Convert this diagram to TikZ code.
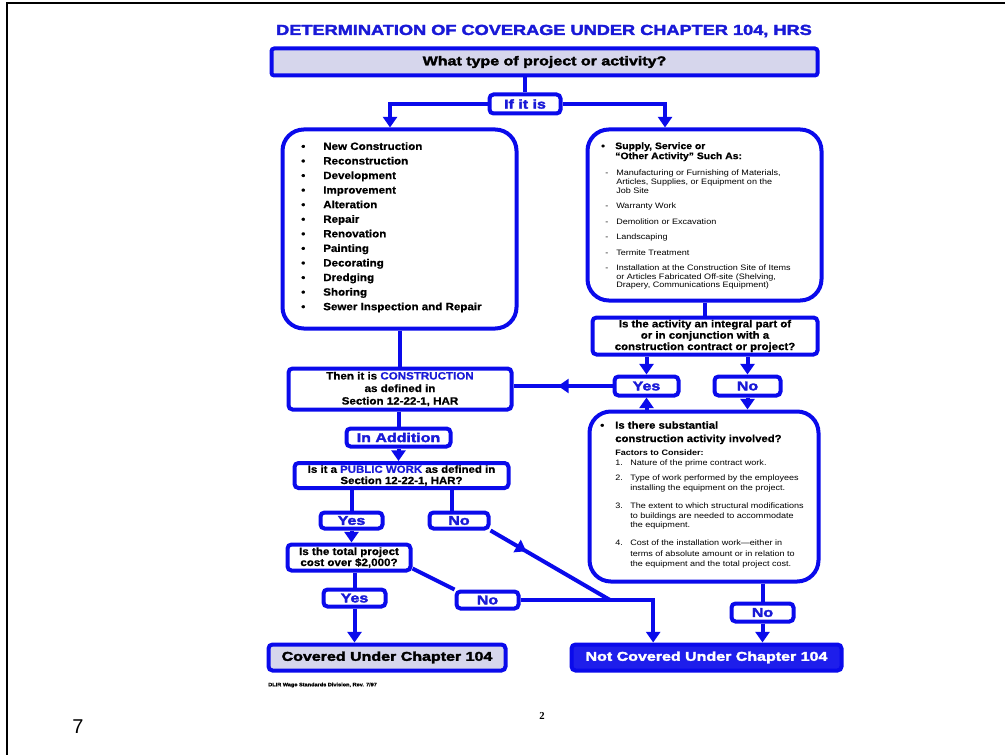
\documentclass[tikz,border=0pt]{standalone}
\usepackage{fontspec}
\setmainfont{Liberation Sans}
\newfontfamily\heavyfam{Liberation Sans}[FakeStretch=1.25,BoldFeatures={FakeBold=2.5}]
\newfontfamily\bodyfam{Liberation Sans}[FakeStretch=1.1,BoldFeatures={FakeBold=0.8}]
\newfontfamily\smallfam{Liberation Sans}[FakeStretch=1.15]
\newfontfamily\serifpg{Liberation Serif}
\usetikzlibrary{arrows.meta,decorations.markings}
\definecolor{lineblue}{RGB}{10,10,235}
\definecolor{textblue}{RGB}{25,25,215}
\definecolor{lightfill}{RGB}{214,214,236}
\definecolor{darkfill}{RGB}{30,30,235}
\newcommand\lbul{\makebox[16.5pt][l]{•}}
\newcommand\rbul{\makebox[10.5pt][l]{•}}
\newcommand\rdash{\makebox[8.25pt][l]{-}}
\newcommand\rind{\hspace*{8.25pt}}
\newcommand\numind{\hspace*{11.25pt}}
\newcommand\tightlines{\lineskiplimit=-20pt\relax\lineskip=0pt\relax}
\tikzset{
  conn/.style={draw=lineblue, line width=3pt},
  arr/.style={conn, -{Triangle[width=10.5pt,length=8pt]}},
  midarrow/.style={postaction={decorate}, decoration={markings, mark=at position #1 with {\arrow{Triangle[width=10.5pt,length=8pt]}}}},
  boxbase/.style={draw=lineblue, line width=3pt, rounded corners=3pt, inner sep=0pt, align=center},
  bigbox/.style={draw=lineblue, line width=3pt, rounded corners=16pt, inner sep=0pt},
  tag/.style={boxbase, font=\heavyfam\bfseries\fontsize{9.6}{10}\selectfont, text=textblue},
  body/.style={boxbase, font=\bodyfam\bfseries\fontsize{7.9}{9.4}\selectfont\tightlines},
  txt/.style={inner sep=0pt, anchor=north west, align=left},
}
\begin{document}
\begin{tikzpicture}[x=0.75pt,y=-0.75pt]
\useasboundingbox (0,0) rectangle (1005,755);
% slide frame
\draw[line width=2.2pt] (7,755) -- (7,3) -- (1005,3);

% title
\node[font=\heavyfam\bfseries\fontsize{10.9}{12}\selectfont, text=textblue, inner sep=0pt] (title) at (544,31) {DETERMINATION OF COVERAGE UNDER CHAPTER 104, HRS};

% boxes
\node[boxbase, fill=lightfill, rounded corners=2pt, minimum width=409.5pt, minimum height=20.25pt,
      font=\heavyfam\bfseries\fontsize{9.6}{10}\selectfont] (top) at (544.5,62) {What type of project or activity?};
\node[tag, minimum width=53.25pt, minimum height=14.25pt] (ifbox) at (525,104) {If it is};

\node[bigbox, minimum width=175.5pt, minimum height=149.25pt] (leftbox) at (399.5,229) {};
\node[bigbox, minimum width=175.5pt, minimum height=128.25pt] (rightbox) at (704.5,215) {};

\node[body, minimum width=168.75pt, minimum height=27.75pt, font=\bodyfam\bfseries\fontsize{7.8}{8.5}\selectfont\tightlines] (question) at (705,336)
  {Is the activity an integral part of\\ or in conjunction with a\\ construction contract or project?};
\node[tag, minimum width=48pt, minimum height=14.25pt] (yesR) at (646.5,386) {Yes};
\node[tag, minimum width=49.5pt, minimum height=14.25pt] (noR) at (747.5,386) {No};

\node[body, minimum width=167.25pt, minimum height=30.75pt] (construction) at (400,389)
  {Then it is \textcolor{textblue}{CONSTRUCTION}\\ as defined in\\ Section 12-22-1, HAR};
\node[tag, minimum width=78pt, minimum height=13.5pt] (inaddition) at (398.5,437.5) {In Addition};
\node[body, minimum width=160.5pt, minimum height=18.75pt, font=\bodyfam\bfseries\fontsize{7.8}{8.4}\selectfont\tightlines] (public) at (401.5,475.5)
  {Is it a \textcolor{textblue}{PUBLIC WORK} as defined in\\ Section 12-22-1, HAR?};
\node[tag, minimum width=46.5pt, minimum height=12pt] (yesL) at (351.5,520.5) {Yes};
\node[tag, minimum width=44.25pt, minimum height=12pt] (noL) at (459,520.5) {No};
\node[body, minimum width=92.25pt, minimum height=19.5pt, font=\bodyfam\bfseries\fontsize{7.9}{8.25}\selectfont\tightlines] (cost) at (349,557.5)
  {Is the total project\\ cost over \$2,000?};
\node[tag, minimum width=46.5pt, minimum height=12.75pt] (yesL2) at (354.5,598) {Yes};
\node[tag, minimum width=46.5pt, minimum height=12.75pt] (noL2) at (487.5,600) {No};

\node[bigbox, minimum width=171.75pt, minimum height=127.5pt] (substantial) at (704,496.5) {};
\node[tag, minimum width=46.5pt, minimum height=13.5pt] (noR2) at (762.5,612.5) {No};

\node[boxbase, fill=lightfill, minimum width=177.75pt, minimum height=19.5pt,
      font=\heavyfam\bfseries\fontsize{9.6}{10}\selectfont] (covered) at (387,657.5) {Covered Under Chapter 104};
\node[boxbase, fill=darkfill, text=white, minimum width=202.5pt, minimum height=19.5pt,
      font=\heavyfam\bfseries\fontsize{9.6}{10}\selectfont] (notcovered) at (706.5,657.5) {Not Covered Under Chapter 104};

% left list
\node[txt, font=\bodyfam\bfseries\fontsize{7.9}{10.93}\selectfont] (leftlist) at (301,142)
  {\lbul New Construction\\ \lbul Reconstruction\\ \lbul Development\\ \lbul Improvement\\
   \lbul Alteration\\ \lbul Repair\\ \lbul Renovation\\ \lbul Painting\\ \lbul Decorating\\
   \lbul Dredging\\ \lbul Shoring\\ \lbul Sewer Inspection and Repair};

% right list
\node[txt, font=\bodyfam\bfseries\fontsize{7.1}{7.5}\selectfont] (rhead) at (601,142)
  {\rbul Supply, Service or\\ \hspace*{10.5pt}“Other Activity” Such As:};
\node[txt, font=\smallfam\fontsize{5.9}{6.5}\selectfont\tightlines] (rlist) at (605,170)
  {\rdash Manufacturing or Furnishing of Materials,\\ \rind Articles, Supplies, or Equipment on the\\ \rind Job Site\\[5.1pt]
   \rdash Warranty Work\\[5.1pt]
   \rdash Demolition or Excavation\\[5.1pt]
   \rdash Landscaping\\[5.1pt]
   \rdash Termite Treatment\\[5.1pt]
   \rdash Installation at the Construction Site of Items\\ \rind or Articles Fabricated Off-site (Shelving,\\ \rind Drapery, Communications Equipment)};

% substantial box content
\node[txt, font=\bodyfam\bfseries\fontsize{7.7}{10}\selectfont] (shead) at (600,421)
  {\makebox[11.25pt][l]{•}Is there substantial\\ \numind construction activity involved?};
\node[txt, font=\smallfam\bfseries\fontsize{5.9}{7}\selectfont] (factors) at (615,450) {Factors to Consider:};
\node[txt, font=\smallfam\fontsize{5.9}{7}\selectfont\tightlines] (f1) at (615,460)
  {\makebox[11.25pt][l]{1.}Nature of the prime contract work.};
\node[txt, font=\smallfam\fontsize{5.9}{7}\selectfont\tightlines] (f2) at (615,475)
  {\makebox[11.25pt][l]{2.}Type of work performed by the employees\\ \numind installing the equipment on the project.};
\node[txt, font=\smallfam\fontsize{5.9}{7}\selectfont\tightlines] (f3) at (615,503)
  {\makebox[11.25pt][l]{3.}The extent to which structural modifications\\ \numind to buildings are needed to accommodate\\ \numind the equipment.};
\node[txt, font=\smallfam\fontsize{5.9}{7.6}\selectfont\tightlines] (f4) at (615,540)
  {\makebox[11.25pt][l]{4.}Cost of the installation work—either in\\ \numind terms of absolute amount or in relation to\\ \numind the equipment and the total project cost.};

% footer texts
\node[font=\bodyfam\bfseries\fontsize{3.8}{4.5}\selectfont, anchor=west, inner sep=0pt] (foot) at (268,685) {DLIR Wage Standards Division, Rev. 7/97};
\node[font=\serifpg\bfseries\fontsize{8}{9}\selectfont, inner sep=0pt] (pg) at (542,716) {2};
\node[font=\fontsize{15}{16}\selectfont, inner sep=0pt] (slide) at (78,727) {7};

% connectors
\draw[conn] (top.south -| ifbox.north) -- (ifbox.north);
\draw[arr] (ifbox.west) -| ([xshift=-7.1pt]leftbox.north);
\draw[arr] (ifbox.east) -| ([xshift=-29.6pt]rightbox.north);
\draw[conn] (leftbox.south -| construction.north) -- (construction.north);
\draw[conn] (rightbox.south -| question.north) -- (question.north);
\draw[arr] (question.south -| yesR.north) -- (yesR.north);
\draw[arr] (question.south -| noR.north) -- (noR.north);
\draw[arr] (noR.south) -- (noR.south |- substantial.north);
\draw[arr] (substantial.north -| yesR.south) -- (yesR.south);
\draw[conn, midarrow=0.55] (yesR.west) -- (yesR.west -| construction.east);
\draw[conn] (construction.south -| inaddition.north) -- (inaddition.north);
\draw[arr] (inaddition.south) -- (inaddition.south |- public.north);
\draw[conn] (public.south -| yesL.north) -- (yesL.north);
\coordinate (noLtop) at ([xshift=-5.25pt]noL.north);
\draw[conn] (public.south -| noLtop) -- (noLtop);
\draw[arr] (yesL.south) -- (yesL.south |- cost.north);
\draw[conn] (cost.south -| yesL2.north) -- (yesL2.north);
\draw[arr] (yesL2.south) -- (yesL2.south |- covered.north);
\draw[conn] ([yshift=3pt]cost.south east) -- (noL2.north west);
\coordinate (J) at (610,600);
\draw[arr] (noL2.east) -| ([xshift=-40pt]notcovered.north);
\draw[conn, midarrow=0.3] (noL.south east) -- (J);
\draw[conn] (substantial.south -| noR2.north) -- (noR2.north);
\draw[arr] (noR2.south) -- (noR2.south |- notcovered.north);
\end{tikzpicture}
\end{document}
